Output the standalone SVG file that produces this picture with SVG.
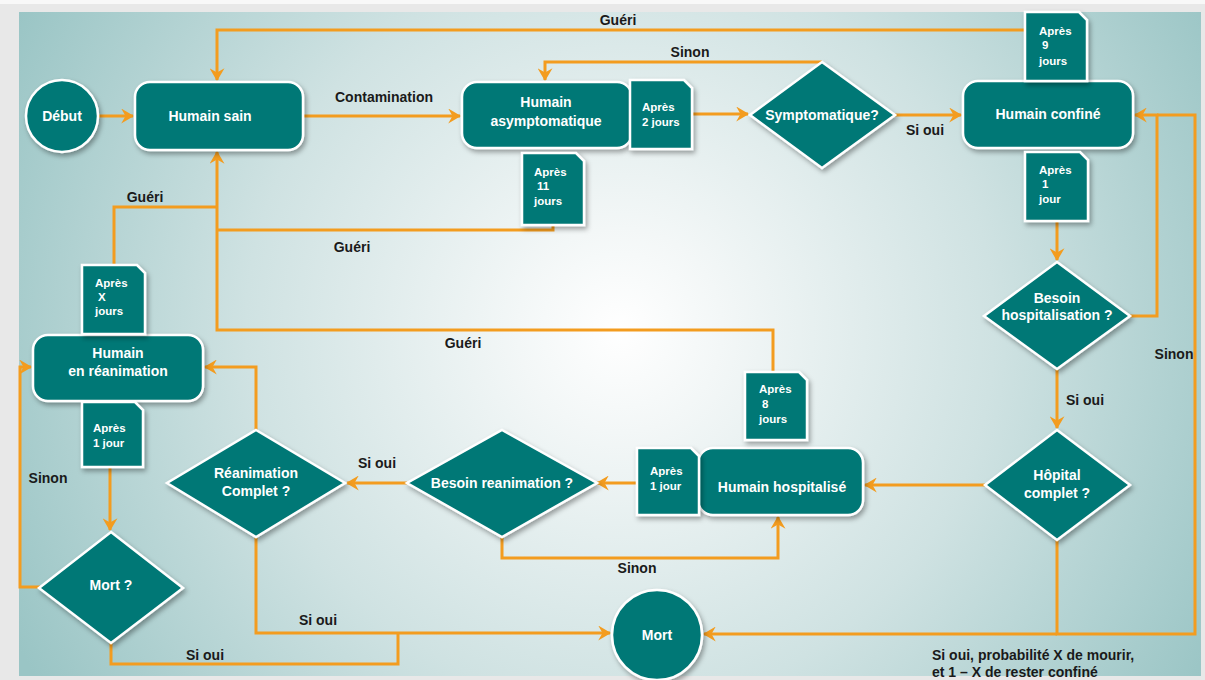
<svg xmlns="http://www.w3.org/2000/svg" width="1205" height="680" viewBox="0 0 1205 680">
<defs>
<radialGradient id="bg" gradientUnits="userSpaceOnUse" cx="620" cy="330" r="680">
<stop offset="0" stop-color="#ffffff"/>
<stop offset="0.15" stop-color="#f3f7f7"/>
<stop offset="0.55" stop-color="#cfe2e2"/>
<stop offset="1" stop-color="#9ac5c5"/>
</radialGradient>
<filter id="sh" x="-20%" y="-20%" width="140%" height="150%">
<feDropShadow dx="2" dy="3" stdDeviation="2.5" flood-color="#000" flood-opacity="0.35"/>
</filter>
<marker id="ar" viewBox="0 0 12 14" refX="11" refY="7" markerWidth="13" markerHeight="15" markerUnits="userSpaceOnUse" orient="auto">
<path d="M0,0 L12,7 L0,14 L4,7 Z" fill="#f39c1f"/>
</marker>
<style>
.n{fill:#037876;stroke:#ffffff;stroke-width:2.5;filter:url(#sh)}
.t{font-family:"Liberation Sans",Arial,sans-serif;font-weight:bold;font-size:14px;fill:#ffffff;text-anchor:middle}
.s{font-family:"Liberation Sans",Arial,sans-serif;font-weight:bold;font-size:11.5px;fill:#ffffff}
.l{font-family:"Liberation Sans",Arial,sans-serif;font-weight:bold;font-size:14px;fill:#1a1a1a;text-anchor:middle}
.c{fill:none;stroke:#f39c1f;stroke-width:3}
</style>
</defs>
<rect x="0" y="0" width="1205" height="680" fill="#e8e8e8"/>
<rect x="0" y="0" width="1205" height="4" fill="#f8f8f8"/>
<rect x="19" y="12" width="1182" height="664" fill="url(#bg)"/>

<g id="connectors">
<path class="c" d="M99,116 H133" marker-end="url(#ar)"/>
<path class="c" d="M303,116 H460" marker-end="url(#ar)"/>
<path class="c" d="M692,114 H748" marker-end="url(#ar)"/>
<path class="c" d="M822,62 H545 V80" marker-end="url(#ar)"/>
<path class="c" d="M895,115 H961" marker-end="url(#ar)"/>
<path class="c" d="M1025,30 H217 V80" marker-end="url(#ar)"/>
<path class="c" d="M1057,221 V260" marker-end="url(#ar)"/>
<path class="c" d="M1130,316 H1157 V115 H1135" marker-end="url(#ar)"/>
<path class="c" d="M1057,540 V634 H1195 V115 H1157"/>
<path class="c" d="M1057,634 H704" marker-end="url(#ar)"/>
<path class="c" d="M1057,369 V428" marker-end="url(#ar)"/>
<path class="c" d="M985,485 H865" marker-end="url(#ar)"/>
<path class="c" d="M773,372 V330 H217 V152" marker-end="url(#ar)"/>
<path class="c" d="M553,225 V230 H217"/>
<path class="c" d="M114,265 V207 H217"/>
<path class="c" d="M637,483 H597" marker-end="url(#ar)"/>
<path class="c" d="M502,537 V558 H778 V517" marker-end="url(#ar)"/>
<path class="c" d="M407,483 H347" marker-end="url(#ar)"/>
<path class="c" d="M256,430 V367 H205" marker-end="url(#ar)"/>
<path class="c" d="M256,537 V633 H610" marker-end="url(#ar)"/>
<path class="c" d="M110,468 V530" marker-end="url(#ar)"/>
<path class="c" d="M40,587 H20 V367 H31" marker-end="url(#ar)"/>
<path class="c" d="M111,643 V664 H398 V633"/>
</g>

<g id="labels">
<text class="l" x="618" y="25">Guéri</text>
<text class="l" x="690" y="57">Sinon</text>
<text class="l" x="384" y="102">Contamination</text>
<text class="l" x="925" y="135">Si oui</text>
<text class="l" x="145" y="202">Guéri</text>
<text class="l" x="352" y="252">Guéri</text>
<text class="l" x="463" y="348">Guéri</text>
<text class="l" x="1174" y="359">Sinon</text>
<text class="l" x="1085" y="405">Si oui</text>
<text class="l" x="377" y="468">Si oui</text>
<text class="l" x="637" y="573">Sinon</text>
<text class="l" x="48" y="483">Sinon</text>
<text class="l" x="318" y="625">Si oui</text>
<text class="l" x="205" y="660">Si oui</text>
<text class="l" x="932" y="660" style="text-anchor:start">Si oui, probabilité X de mourir,</text>
<text class="l" x="932" y="677" style="text-anchor:start">et 1 – X de rester confiné</text>
</g>

<g id="debut">
<circle class="n" cx="62" cy="116" r="36"/>
<text class="t" x="62" y="121">Début</text>
</g>
<g id="humain-sain">
<rect class="n" x="135" y="82" width="168" height="68" rx="15"/>
<text class="t" x="210" y="121">Humain sain</text>
</g>
<g id="humain-asymptomatique">
<rect class="n" x="462" y="82" width="170" height="66" rx="15"/>
<text class="t" x="546" y="107">Humain</text>
<text class="t" x="546" y="126">asymptomatique</text>
</g>
<g id="note-2-jours">
<path class="n" d="M630,80 H684 L692,88 V149 H630 Z"/>
<text class="s" x="642" y="111">Après</text>
<text class="s" x="642" y="126">2 jours</text>
</g>
<g id="note-11-jours">
<path class="n" d="M522,153 H576 L584,161 V225 H522 Z"/>
<text class="s" x="534" y="176">Après</text>
<text class="s" x="537" y="190">11</text>
<text class="s" x="534" y="205">jours</text>
</g>
<g id="symptomatique">
<path class="n" d="M822,62 L895,115 L822,168 L750,115 Z"/>
<text class="t" x="822" y="120">Symptomatique?</text>
</g>
<g id="humain-confine">
<rect class="n" x="963" y="81" width="170" height="67" rx="15"/>
<text class="t" x="1048" y="119">Humain confiné</text>
</g>
<g id="note-9-jours">
<path class="n" d="M1025,12 H1079 L1087,20 V81 H1025 Z"/>
<text class="s" x="1039" y="35">Après</text>
<text class="s" x="1042" y="49">9</text>
<text class="s" x="1039" y="65">jours</text>
</g>
<g id="note-1-jour-confine">
<path class="n" d="M1025,152 H1080 L1088,160 V221 H1025 Z"/>
<text class="s" x="1039" y="174">Après</text>
<text class="s" x="1042" y="188">1</text>
<text class="s" x="1039" y="203">jour</text>
</g>
<g id="besoin-hospitalisation">
<path class="n" d="M1057,262 L1130,316 L1057,369 L984,316 Z"/>
<text class="t" x="1057" y="303">Besoin</text>
<text class="t" x="1057" y="320">hospitalisation ?</text>
</g>
<g id="hopital-complet">
<path class="n" d="M1057,430 L1130,485 L1057,540 L985,485 Z"/>
<text class="t" x="1057" y="480">Hôpital</text>
<text class="t" x="1057" y="498">complet ?</text>
</g>
<g id="humain-hospitalise">
<rect class="n" x="698" y="448" width="165" height="67" rx="15"/>
<text class="t" x="782" y="492">Humain hospitalisé</text>
</g>
<g id="note-1-jour-hopital">
<path class="n" d="M637,448 H691 L699,456 V515 H637 Z"/>
<text class="s" x="650" y="475">Après</text>
<text class="s" x="650" y="490">1 jour</text>
</g>
<g id="note-8-jours">
<path class="n" d="M745,372 H799 L807,380 V440 H745 Z"/>
<text class="s" x="759" y="393">Après</text>
<text class="s" x="762" y="408">8</text>
<text class="s" x="759" y="423">jours</text>
</g>
<g id="besoin-reanimation">
<path class="n" d="M502,430 L597,483 L502,537 L407,483 Z"/>
<text class="t" x="502" y="488">Besoin reanimation ?</text>
</g>
<g id="reanimation-complet">
<path class="n" d="M256,430 L345,483 L256,537 L167,483 Z"/>
<text class="t" x="256" y="478">Réanimation</text>
<text class="t" x="256" y="496">Complet ?</text>
</g>
<g id="humain-reanimation">
<rect class="n" x="33" y="335" width="170" height="66" rx="15"/>
<text class="t" x="118" y="358">Humain</text>
<text class="t" x="118" y="376">en réanimation</text>
</g>
<g id="note-x-jours">
<path class="n" d="M82,265 H137 L145,273 V334 H82 Z"/>
<text class="s" x="95" y="287">Après</text>
<text class="s" x="98" y="301">X</text>
<text class="s" x="95" y="315">jours</text>
</g>
<g id="note-1-jour-rea">
<path class="n" d="M82,402 H135 L143,410 V467 H82 Z"/>
<text class="s" x="93" y="432">Après</text>
<text class="s" x="93" y="447">1 jour</text>
</g>
<g id="mort-question">
<path class="n" d="M111,532 L183,588 L111,643 L39,588 Z"/>
<text class="t" x="111" y="590">Mort ?</text>
</g>
<g id="mort">
<circle class="n" cx="657" cy="635" r="45"/>
<text class="t" x="657" y="640">Mort</text>
</g>
</svg>
